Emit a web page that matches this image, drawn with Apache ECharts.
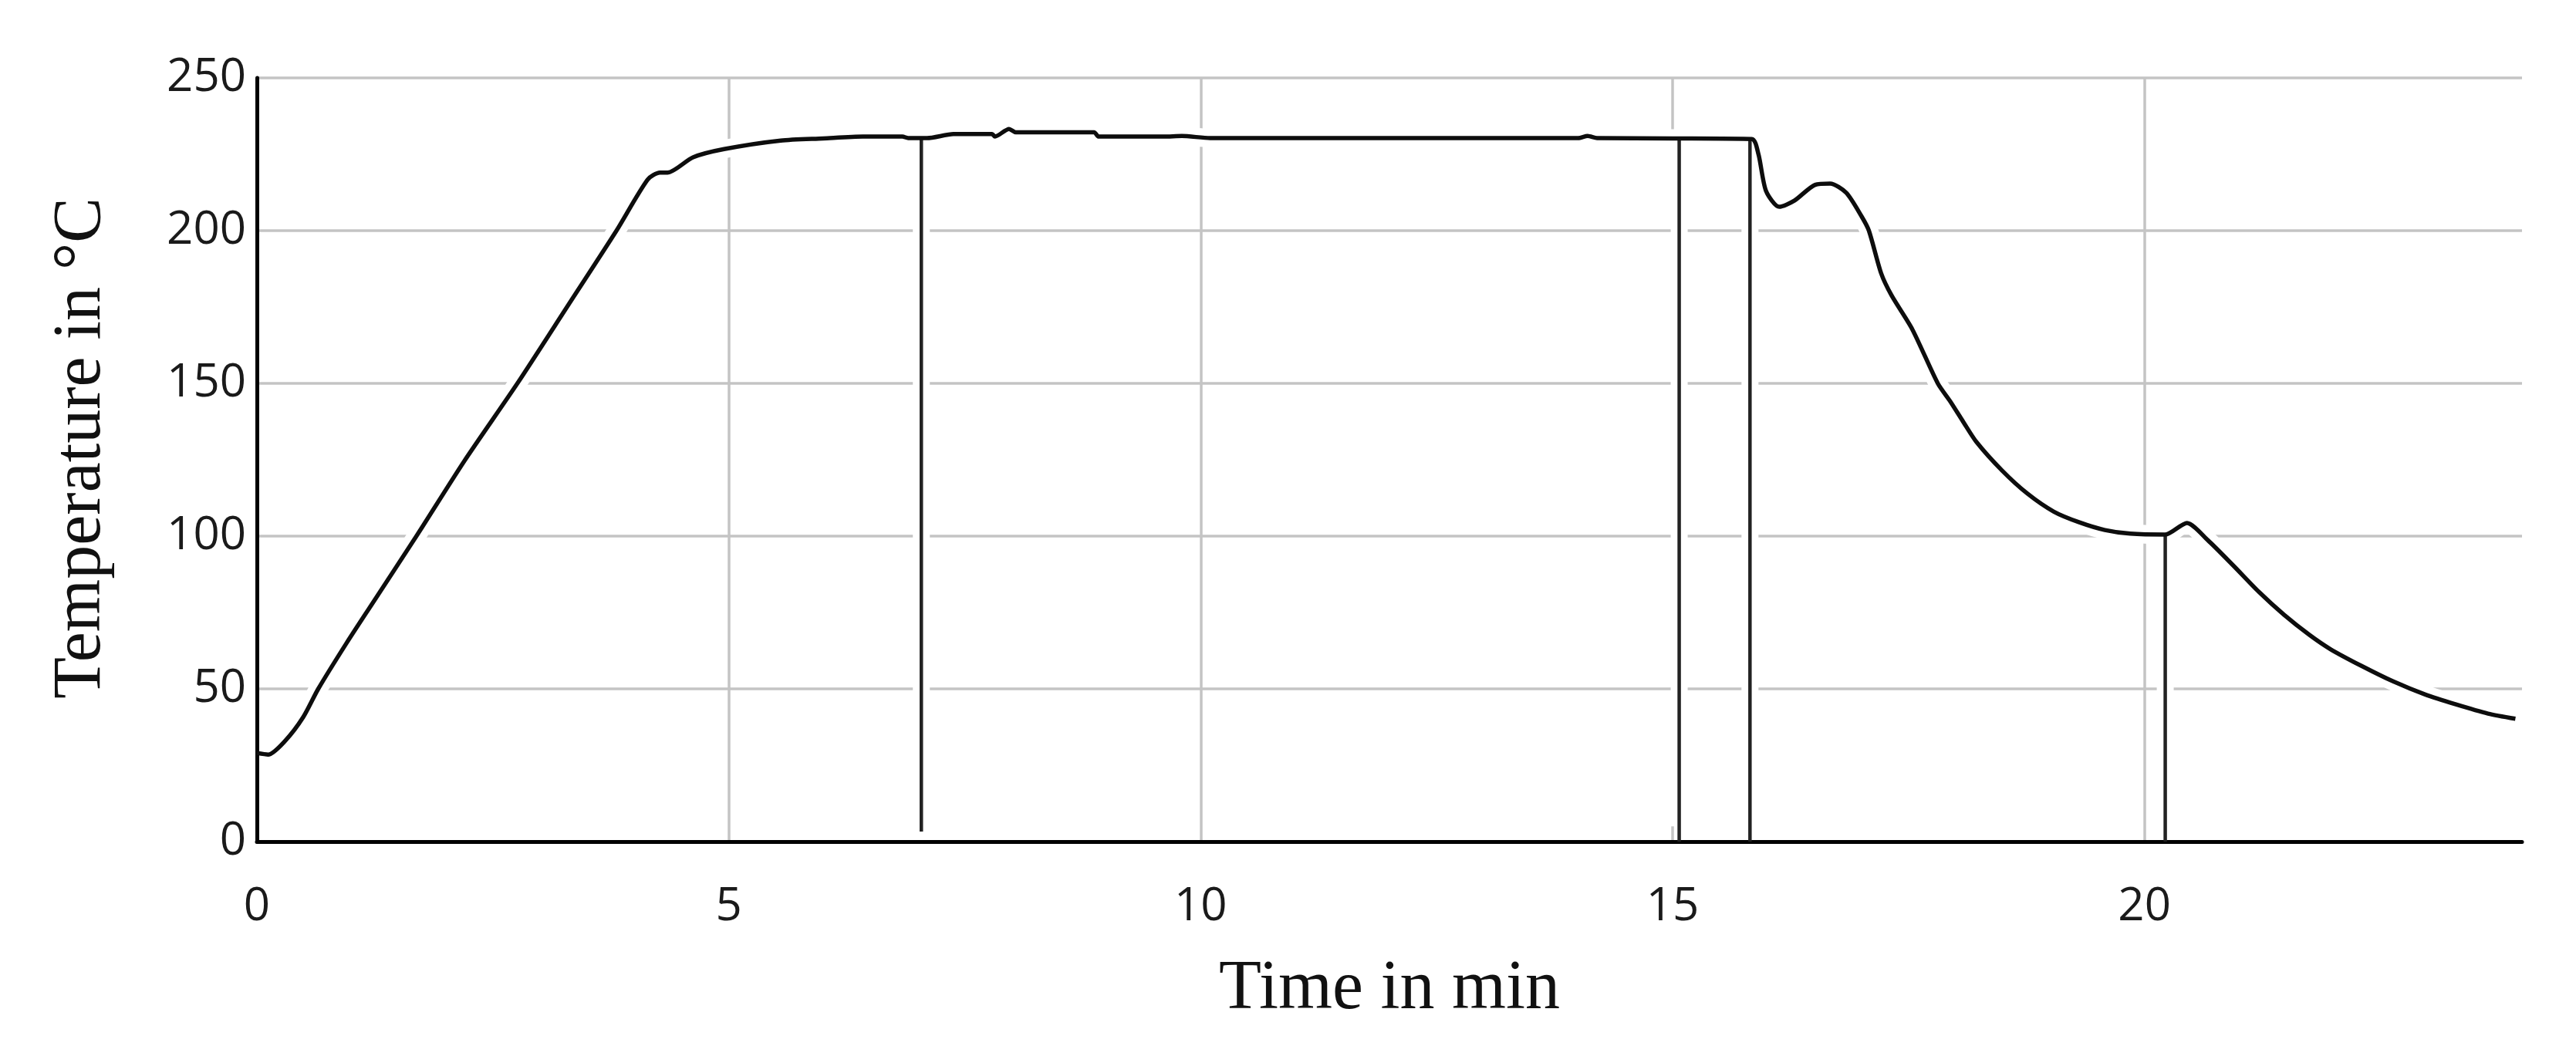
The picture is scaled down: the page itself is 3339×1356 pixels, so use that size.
<!DOCTYPE html>
<html>
<head>
<meta charset="utf-8">
<script src="https://cdn.jsdelivr.net/npm/echarts@6/dist/echarts.min.js"></script>
<style>
html,body{margin:0;padding:0;background:#fff;}
#chart{width:3339px;height:1356px;}
</style>
</head>
<body>
<div id="chart"></div>
<script>
// ---- data ----
const timeMin = [0, 0.12, 0.3, 0.49, 0.65, 0.95, 1.22, 1.69, 2.2, 2.76,
  3.3, 3.81, 4.14, 4.27, 4.35, 4.62, 4.95, 5.55, 6.0, 6.42,
  6.84, 6.9, 7.1, 7.38, 7.79, 7.82, 7.97, 8.04, 8.87, 8.92,
  9.61, 9.8, 10.1, 10.2, 12.0, 14.0, 14.1, 14.2, 15.0, 15.84,
  15.91, 15.99, 16.13, 16.29, 16.51, 16.67, 16.84, 17.0, 17.08, 17.21,
  17.32, 17.54, 17.81, 17.94, 18.08, 18.22, 18.49, 18.76, 19.04, 19.31,
  19.58, 19.85, 20.22, 20.45, 20.67, 20.94, 21.21, 21.48, 21.75, 21.97,
  22.3, 22.63, 22.97, 23.3, 23.64, 23.93];
const tempC = [29, 28.5, 33, 40.7, 50, 65, 77.8, 100, 124.7, 150,
  175.7, 200, 216.7, 219, 219, 224, 226.7, 229.5, 230.2, 230.8,
  230.8, 230.3, 230.3, 231.6, 231.6, 230.8, 233.3, 232.2, 232.2, 230.8,
  230.8, 231, 230.3, 230.3, 230.3, 230.3, 231, 230.3, 230.2, 230,
  225, 213, 207.8, 209.8, 215, 215.4, 212.4, 204.8, 200, 186,
  178.8, 167.7, 150, 144.2, 137.4, 130.8, 121.5, 113.9, 108, 104.5,
  102, 100.8, 100.5, 104.3, 98.7, 90.4, 81.8, 74.2, 67.6, 63.0,
  57.5, 52.5, 48.2, 44.9, 41.9, 40.2];
// vertical drop lines (time, top value on curve, bottom value)
const dropTimes = [7.04, 15.07, 15.82, 20.22];
const dropTops = [230.3, 230, 230, 100.5];
const dropBottoms = [3.3, 0, 0, 0];
// axes
const xMin = 0, xMax = 24, xStep = 5;
const yMin = 0, yMax = 250, yStep = 50;
const xTitle = 'Time in min';
const yTitle = 'Temperature in \u00B0C';

// ---- build ----
const curve = timeMin.map((t, i) => [t, tempC[i]]);
const haloCurve = curve.slice(2);
const series = [];
// white halos (gaps in grid lines where marks cross them)
dropTimes.forEach((t, i) => {
  series.push({
    type: 'line', silent: true, symbol: 'none', animation: false,
    data: [[t, Math.max(dropBottoms[i], 5)], [t, dropTops[i]]],
    lineStyle: { color: '#ffffff', width: 22, cap: 'butt' }
  });
});
series.push({
  type: 'line', silent: true, symbol: 'none', animation: false,
  data: haloCurve, smooth: 0.25,
  lineStyle: { color: '#ffffff', width: 24, join: 'round' }
});
dropTimes.forEach((t, i) => {
  series.push({
    type: 'line', silent: true, symbol: 'none', animation: false,
    data: [[t, dropBottoms[i]], [t, dropTops[i]]],
    lineStyle: { color: '#222222', width: 4.5, cap: 'butt' }
  });
});
series.push({
  type: 'line', symbol: 'none', animation: false,
  data: curve, smooth: 0.25,
  lineStyle: { color: '#0d0d0d', width: 5.5, join: 'round' }
});

const chart = echarts.init(document.getElementById('chart'), null, { renderer: 'canvas' });
chart.setOption({
  backgroundColor: '#ffffff',
  animation: false,
  grid: { left: 333, right: 70, top: 101, bottom: 265, containLabel: false },
  xAxis: {
    type: 'value', min: xMin, max: xMax, interval: xStep,
    name: xTitle, nameLocation: 'middle', nameGap: 147,
    nameTextStyle: { fontFamily: 'Liberation Serif', fontSize: 90, lineHeight: 90, color: '#111' },
    axisLine: { show: true, onZero: false, lineStyle: { color: '#000', width: 5 } },
    axisTick: { show: false },
    axisLabel: { showMaxLabel: false, margin: 55, fontFamily: 'Open Sans', fontSize: 60, lineHeight: 60, color: '#1a1a1a' },
    splitLine: { show: true, lineStyle: { color: ['#c4c4c4', '#c4c4c4', '#c4c4c4', '#c4c4c4', '#c4c4c4', 'rgba(0,0,0,0)'], width: 3.5 } }
  },
  yAxis: {
    type: 'value', min: yMin, max: yMax, interval: yStep,
    name: yTitle, nameLocation: 'middle', nameRotate: 90, nameGap: 183,
    nameTextStyle: { fontFamily: 'Liberation Serif', fontSize: 88, lineHeight: 88, color: '#111', padding: [0, 0, 0, 30] },
    axisLine: { show: true, lineStyle: { color: '#000', width: 5 } },
    axisTick: { show: false },
    axisLabel: { margin: 14, fontFamily: 'Open Sans', fontSize: 60, color: '#1a1a1a' },
    splitLine: { show: true, lineStyle: { color: '#c4c4c4', width: 3.5 } }
  },
  series: series
});
</script>
</body>
</html>
